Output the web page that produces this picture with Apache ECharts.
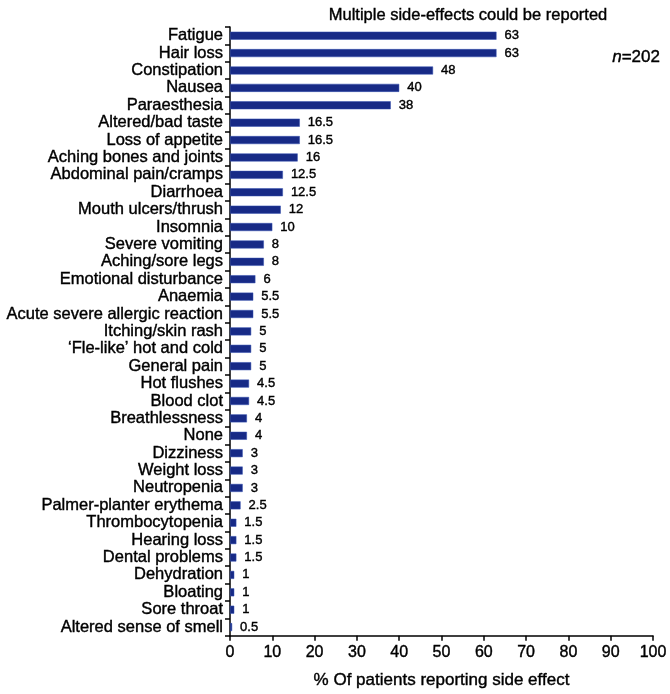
<!DOCTYPE html>
<html>
<head>
<meta charset="utf-8">
<script src="https://cdn.jsdelivr.net/npm/echarts@6/dist/echarts.min.js"></script>
<style>html,body{margin:0;padding:0;background:#fff}#c{width:670px;height:694px}</style>
</head>
<body>
<div id="c"></div>
<script>
const categories = ["Fatigue","Hair loss","Constipation","Nausea","Paraesthesia","Altered/bad taste","Loss of appetite","Aching bones and joints","Abdominal pain/cramps","Diarrhoea","Mouth ulcers/thrush","Insomnia","Severe vomiting","Aching/sore legs","Emotional disturbance","Anaemia","Acute severe allergic reaction","Itching/skin rash","\u2018Fle-like\u2019 hot and cold","General pain","Hot flushes","Blood clot","Breathlessness","None","Dizziness","Weight loss","Neutropenia","Palmer-planter erythema","Thrombocytopenia","Hearing loss","Dental problems","Dehydration","Bloating","Sore throat","Altered sense of smell"];
const values = [63,63,48,40,38,16.5,16.5,16,12.5,12.5,12,10,8,8,6,5.5,5.5,5,5,5,4.5,4.5,4,4,3,3,3,2.5,1.5,1.5,1.5,1,1,1,0.5];
const xTicks = [0,10,20,30,40,50,60,70,80,90,100];
const titleText = "Multiple side-effects could be reported";
const xName = "% Of patients reporting side effect";

const chart = echarts.init(document.getElementById('c'), null, {renderer:'canvas'});
const ff = 'Liberation Sans, Arial, sans-serif';
const heavy = {textBorderColor: '#000', textBorderWidth: 0.4};
chart.setOption({
  animation: false,
  backgroundColor: '#fff',
  title: {
    text: titleText, left: 463, top: 2, textAlign: 'center',
    textStyle: Object.assign({fontFamily: ff, fontSize: 16.5, fontWeight: 'normal', color: '#000'}, heavy)
  },
  graphic: [{
    type: 'text', left: 612, top: 49,
    style: {
      text: '{i|n}=202',
      rich: {i: {fontStyle: 'italic', fontFamily: ff, fontSize: 17, fill: '#000'}},
      font: '17px Liberation Sans, Arial, sans-serif', fill: '#000',
      stroke: '#000', lineWidth: 0.4
    }
  }],
  grid: {left: 230, right: 17, top: 27, bottom: 53, containLabel: false},
  xAxis: {
    type: 'value', min: 0, max: 100, interval: 10,
    name: xName, nameLocation: 'middle', nameGap: 36,
    nameTextStyle: Object.assign({fontFamily: ff, fontSize: 17, color: '#000'}, heavy),
    axisLine: {show: true, lineStyle: {color: '#000', width: 1.5}},
    axisTick: {show: true, length: 5, lineStyle: {color: '#000', width: 1.5}},
    axisLabel: Object.assign({fontFamily: ff, fontSize: 16, color: '#000', margin: 9,
      formatter: v => xTicks.includes(v) ? String(v) : ''}, heavy),
    splitLine: {show: false}
  },
  yAxis: {
    type: 'category', data: categories, inverse: true,
    axisLine: {show: true, lineStyle: {color: '#000', width: 1.5}},
    axisTick: {show: true, length: 5, lineStyle: {color: '#000', width: 1.5}},
    axisLabel: Object.assign({fontFamily: ff, fontSize: 16.5, color: '#000', margin: 7, interval: 0}, heavy),
    splitLine: {show: false}
  },
  series: [{
    type: 'bar', data: values, barWidth: 8,
    itemStyle: {color: '#172a86', borderColor: '#3550b0', borderWidth: 0.5},
    label: Object.assign({show: true, position: 'right', distance: 8,
      fontFamily: ff, fontSize: 13, color: '#000'}, heavy)
  }]
});
</script>
</body>
</html>
